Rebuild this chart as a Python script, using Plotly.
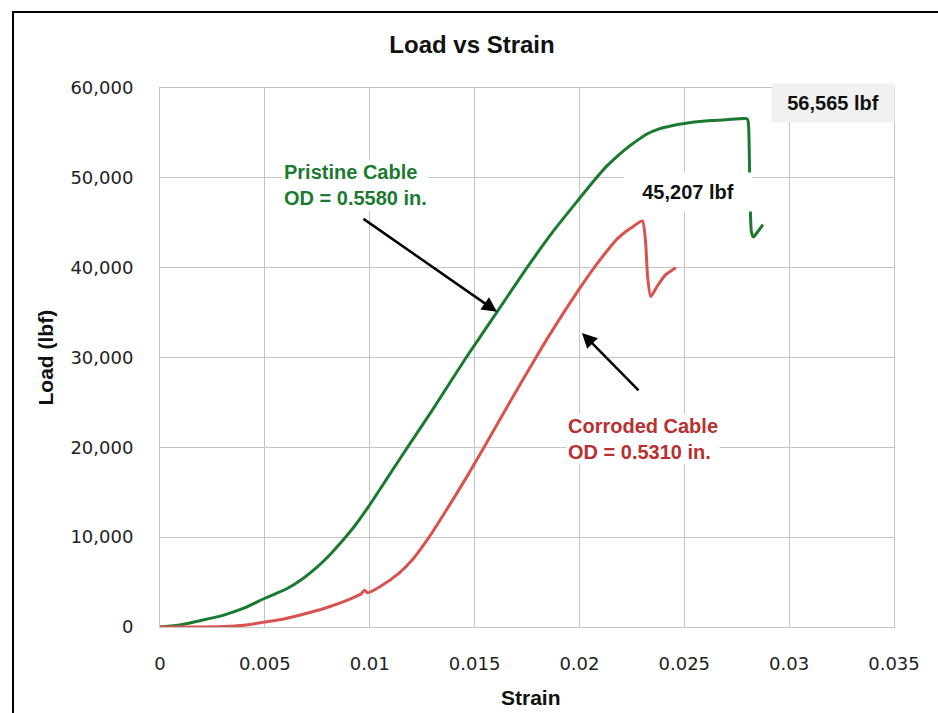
import plotly.graph_objects as go

# ---- data ----
pristine_strain = [0, 0.001, 0.002, 0.003, 0.004, 0.005, 0.0055, 0.006, 0.0067, 0.0075, 0.008,
                   0.0087, 0.0093, 0.01, 0.0109, 0.0118, 0.013, 0.0146, 0.0155, 0.0166, 0.0175,
                   0.0188, 0.02, 0.0207, 0.0213, 0.0218, 0.0222, 0.0226, 0.0232, 0.0238, 0.0244,
                   0.025, 0.026, 0.027, 0.0280,
                   0.02806, 0.02812, 0.0282, 0.0283, 0.0285, 0.02875]
pristine_load = [0, 250, 750, 1300, 2100, 3200, 3700, 4200, 5200, 6700, 7800,
                 9600, 11300, 13600, 16800, 20000, 24200, 30000, 33100, 36900, 40000,
                 44200, 47700, 49700, 51300, 52400, 53200, 53900, 54850, 55450, 55800,
                 56050, 56320, 56460, 56565,
                 56000, 50000, 44000, 43400, 44000, 44800]

corroded_strain = [0, 0.002, 0.003, 0.004, 0.005, 0.006, 0.0067, 0.008, 0.009, 0.0096, 0.00975,
                   0.0099, 0.0105, 0.0114, 0.012, 0.0128, 0.0136, 0.0146, 0.0155, 0.0167, 0.0179,
                   0.0186, 0.0199, 0.0208, 0.0214, 0.0218, 0.0222, 0.0226, 0.0230, 0.02315,
                   0.02325, 0.0234, 0.0237, 0.0241, 0.0246]
corroded_load = [0, 0, 50, 200, 550, 950, 1340, 2200, 3050, 3700, 4100,
                 3800, 4500, 6000, 7400, 9900, 12800, 16600, 20200, 25100, 29900,
                 32600, 37300, 40300, 42100, 43200, 44000, 44650, 45207, 43000,
                 39000, 36800, 37900, 39200, 40000]

x_ticks = [0, 0.005, 0.01, 0.015, 0.02, 0.025, 0.03, 0.035]
x_tick_labels = ["0", "0.005", "0.01", "0.015", "0.02", "0.025", "0.03", "0.035"]
y_ticks = [0, 10000, 20000, 30000, 40000, 50000, 60000]
y_tick_labels = ["0", "10,000", "20,000", "30,000", "40,000", "50,000", "60,000"]

GREEN = "#1c7a30"
RED = "#d9534e"
RED_TEXT = "#b8312f"
GRID = "#c4c4c4"

fig = go.Figure()
fig.add_trace(go.Scatter(x=pristine_strain, y=pristine_load, mode="lines",
                         line=dict(color=GREEN, width=3, shape="spline", smoothing=0.6),
                         name="Pristine Cable", showlegend=False))
fig.add_trace(go.Scatter(x=corroded_strain, y=corroded_load, mode="lines",
                         line=dict(color=RED, width=3, shape="spline", smoothing=0.6),
                         name="Corroded Cable", showlegend=False))

axis_font = dict(family="DejaVu Sans", size=18, color="#222222")

fig.update_layout(
    width=938, height=713,
    margin=dict(l=160, r=44, t=88, b=86),
    paper_bgcolor="white", plot_bgcolor="white",
    title=dict(text="<b>Load vs Strain</b>", x=472 / 938, xref="container", xanchor="center",
               y=1 - 45 / 713, yref="container", yanchor="middle",
               font=dict(family="Liberation Sans", size=24, color="#111111")),
    xaxis=dict(range=[0, 0.035], tickvals=x_ticks, ticktext=x_tick_labels,
               showgrid=True, gridcolor=GRID, gridwidth=1, zeroline=False,
               showline=True, linecolor=GRID, linewidth=1, mirror=True,
               ticks="outside", ticklen=20, tickcolor="rgba(0,0,0,0)",
               tickfont=axis_font),
    yaxis=dict(range=[0, 60000], tickvals=y_ticks, ticktext=y_tick_labels,
               showgrid=True, gridcolor=GRID, gridwidth=1, zeroline=False,
               showline=True, linecolor=GRID, linewidth=1, mirror=True,
               ticks="outside", ticklen=22, tickcolor="rgba(0,0,0,0)",
               tickfont=axis_font),
)

annotations = [
    # axis titles
    dict(text="<b>Strain</b>", x=(531 - 160) / 734, y=-(697 - 627) / 539, xref="paper", yref="paper",
         showarrow=False, font=dict(family="Liberation Sans", size=21, color="#111111"),
         xanchor="center", yanchor="middle"),
    dict(text="<b>Load (lbf)</b>", x=(45 - 160) / 734, y=0.5, xref="paper", yref="paper",
         showarrow=False, textangle=-90, font=dict(family="Liberation Sans", size=21, color="#111111"),
         xanchor="center", yanchor="middle"),
    # value labels
    dict(text="<b>56,565 lbf</b>", x=(833 - 160) / 734, y=(627 - 103) / 539, xref="paper", yref="paper",
         showarrow=False, font=dict(family="Liberation Sans", size=20, color="#111111"),
         bgcolor="#f1f1f1", width=120, height=36, xanchor="center", yanchor="middle"),
    dict(text="<b>45,207 lbf</b>", x=(688 - 160) / 734, y=(627 - 192) / 539, xref="paper", yref="paper",
         showarrow=False, font=dict(family="Liberation Sans", size=20, color="#111111"),
         bgcolor="white", width=126, height=36, xanchor="center", yanchor="middle"),
    # series labels
    dict(text="<b>Pristine Cable<br>OD = 0.5580 in.</b>", x=(282 - 160) / 734, y=(627 - 185) / 539,
         xref="paper", yref="paper", showarrow=False, align="left",
         font=dict(family="Liberation Sans", size=20, color=GREEN),
         bgcolor="white", xanchor="left", yanchor="middle"),
    dict(text="<b>Corroded Cable<br>OD = 0.5310 in.</b>", x=(566 - 160) / 734, y=(627 - 439) / 539,
         xref="paper", yref="paper", showarrow=False, align="left",
         font=dict(family="Liberation Sans", size=20, color=RED_TEXT),
         bgcolor="white", xanchor="left", yanchor="middle"),
    # arrows
    dict(text="", x=0.01607, y=35080, ax=0.00963, ay=45550, xref="x", yref="y", axref="x", ayref="y",
         showarrow=True, arrowhead=2, arrowsize=1.2, arrowwidth=2.5, arrowcolor="black"),
    dict(text="", x=0.02012, y=32740, ax=0.02289, ay=26170, xref="x", yref="y", axref="x", ayref="y",
         showarrow=True, arrowhead=2, arrowsize=1.2, arrowwidth=2.5, arrowcolor="black"),
]
fig.update_layout(annotations=annotations)

# outer black frame of the picture
fig.add_shape(type="rect", xref="paper", yref="paper",
              x0=(13 - 160) / 734, x1=(960 - 160) / 734,
              y0=(627 - 740) / 539, y1=(627 - 12) / 539,
              line=dict(color="black", width=2), fillcolor="rgba(0,0,0,0)", layer="above")

fig.write_html("out.html")
